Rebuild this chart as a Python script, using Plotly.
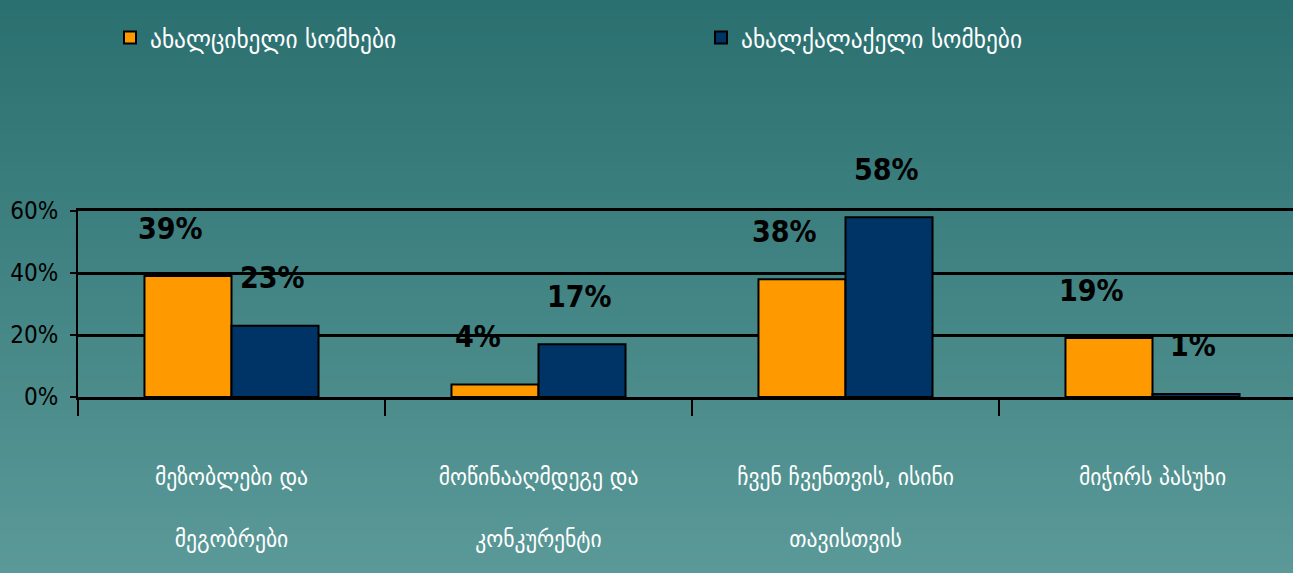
import plotly.graph_objects as go

categories = ["მეზობლები და<br><br>მეგობრები",
              "მოწინააღმდეგე და<br><br>კონკურენტი",
              "ჩვენ ჩვენთვის, ისინი<br><br>თავისთვის",
              "მიჭირს პასუხი"]
series_names = ["ახალციხელი სომხები", "ახალქალაქელი სომხები"]
akhaltsikhe = [39, 4, 38, 19]
akhalkalaki = [23, 17, 58, 1]
y_ticks = [0, 20, 40, 60]

colors = ["#FF9900", "#003366"]
W, H = 1293, 573
L, R, T, B = 78, 0, 211, 176

fig = go.Figure()
for name, vals, col in zip(series_names, [akhaltsikhe, akhalkalaki], colors):
    fig.add_trace(go.Bar(x=categories, y=vals, name=name, marker_color=col,
                         marker_line_color="black", marker_line_width=2))

# gradient background bands
top = (43, 112, 112)
bot = (90, 153, 152)
n = 60
ph = H - T - B
shapes = []
for i in range(n):
    t = i / (n - 1)
    c = tuple(int(round(top[k] + (bot[k] - top[k]) * t)) for k in range(3))
    y1 = 1 + T / ph - i * (H / ph) / n
    y0 = y1 - (H / ph) / n - 0.01
    shapes.append(dict(type="rect", xref="paper", yref="paper",
                       x0=-L / (W - L - R) - 0.01, x1=1.01, y0=y0, y1=y1 + 0.001,
                       fillcolor="rgb(%d,%d,%d)" % c, line_width=0, layer="below"))

annotations = []
gw = 0.567
off = gw / 4
for vals, sign, xs_px in [(akhaltsikhe, -1, -17), (akhalkalaki, 1, -3)]:
    for i, v in enumerate(vals):
        annotations.append(dict(x=i + sign * off, y=v, xref="x", yref="y",
                                text="%d%%" % v, showarrow=False,
                                xshift=xs_px, yshift=48, yanchor="middle",
                                font=dict(family="DejaVu Sans Condensed",
                                          size=30, color="black", weight="bold")))

fig.update_layout(
    width=W, height=H,
    margin=dict(l=L, r=R, t=T, b=B),
    paper_bgcolor="#3f7f7f", plot_bgcolor="rgba(0,0,0,0)",
    barmode="group", bargap=1 - gw, bargroupgap=0,
    shapes=shapes, annotations=annotations,
    showlegend=True,
    legend=dict(orientation="h", x=(110 - L) / (W - L - R), y=1 + (T - 14) / ph,
                xanchor="left", yanchor="top", entrywidth=546, entrywidthmode="pixels",
                bgcolor="rgba(0,0,0,0)",
                font=dict(family="DejaVu Sans Condensed", size=26, color="white")),
    font=dict(family="DejaVu Sans Condensed"),
)
fig.update_xaxes(type="category", range=[-0.5, -0.5 + (W - L - R) / 307.0],
                 tickson="boundaries", ticks="outside", ticklen=16, tickwidth=2,
                 tickcolor="black", showline=True, linecolor="black", linewidth=3,
                 mirror=True, showgrid=False, zeroline=False,
                 tickfont=dict(family="DejaVu Sans Condensed", size=24, color="white"),
                 ticklabelstandoff=56)
fig.update_yaxes(range=[0, 60], tickvals=y_ticks, ticktext=["%d%%" % v for v in y_ticks],
                 showgrid=True, gridcolor="black", gridwidth=3,
                 zeroline=False, showline=True, linecolor="black", linewidth=2,
                 ticks="outside", ticklen=6, tickwidth=2, tickcolor="black",
                 tickfont=dict(family="DejaVu Sans Condensed", size=24, color="black"),
                 ticklabelstandoff=7)

fig.write_html("out.html", config={"displayModeBar": False},
               post_script="document.body.style.margin='0';")
